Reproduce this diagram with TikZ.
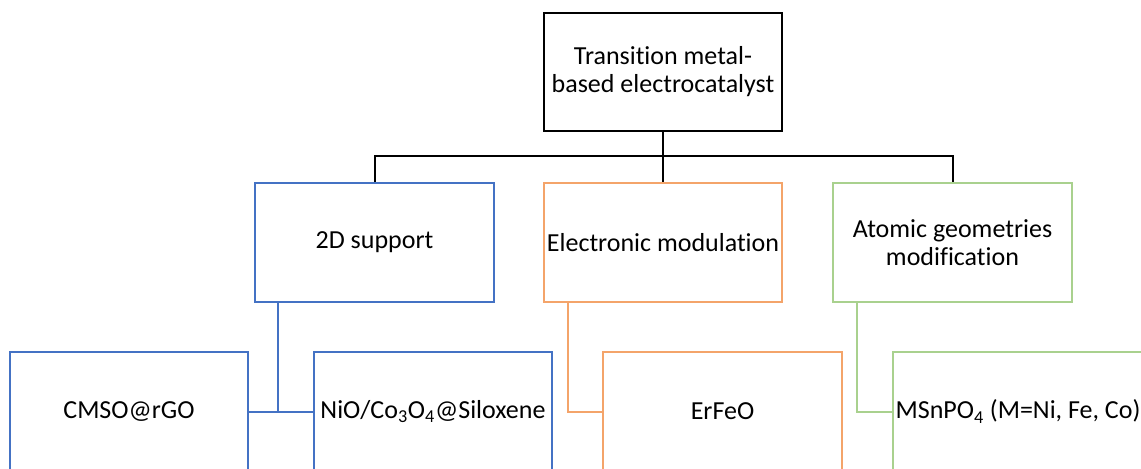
\documentclass[tikz,border=0pt]{standalone}
\usepackage{fontspec}
\setmainfont{Carlito}[Ligatures=NoCommon]
\usepackage{tikz}
\usetikzlibrary{positioning, calc}
\usepackage{xcolor}
\definecolor{TreeBlue}{HTML}{4472C4}
\definecolor{TreeOrange}{HTML}{F4A46A}
\definecolor{TreeGreen}{HTML}{A9D18E}

\begin{document}
\begin{tikzpicture}[
  x=0.75pt, y=-0.75pt,
  catbox/.style={draw, line width=1.5pt, fill=white, align=center, inner sep=2pt,
    minimum width=179pt, minimum height=89pt, font=\fontsize{19.5}{21}\selectfont},
  link/.style={line width=1.5pt},
]
  % Frame
  \useasboundingbox (0,0) rectangle (1141,468);
  \clip (0,0) rectangle (1141,468);

  % Y positions
  \def\ya{72}     % root
  \def\yb{242.5}  % strategies
  \def\yc{411.5}  % examples
  \def\ybus{156}  % branch line

  % Root
  \node[catbox, draw=black] (root) at (663, \ya) {Transition metal-\\based electrocatalyst};

  % Strategies
  \node[catbox, draw=TreeBlue]   (support) at (374.5, \yb) {2D support};
  \node[catbox, draw=TreeOrange] (elec)    at (663, \yb)   {Electronic modulation};
  \node[catbox, draw=TreeGreen]  (geom)    at (952.5, \yb) {Atomic geometries\\modification};

  % Examples
  \node[catbox, draw=TreeBlue]   (cmso)  at (129, \yc)   {CMSO@rGO};
  \node[catbox, draw=TreeBlue]   (nico)  at (433, \yc)   {NiO/Co\textsubscript{3}O\textsubscript{4}@Siloxene};
  \node[catbox, draw=TreeOrange] (erfeo) at (722.5, \yc) {ErFeO};
  \node[catbox, draw=TreeGreen, anchor=west] (msnpo) at (892, \yc) {MSnPO\textsubscript{4} (M=Ni, Fe, Co)};

  % Root branches
  \coordinate (bus) at (663, \ybus);
  \draw[link] (root.south) -- (bus);
  \draw[link] (support.north) |- (bus) -| (geom.north);
  \draw[link] (bus) -- (elec.north);

  % Example branches
  \coordinate (supjoin) at (278, \yc);
  \coordinate (elejoin) at (568, \yc);
  \coordinate (geojoin) at (857, \yc);
  \draw[link, TreeBlue] (supjoin |- support.south) -- (supjoin);
  \draw[link, TreeBlue] (cmso.east) -- (nico.west);
  \draw[link, TreeOrange] (elejoin |- elec.south) -- (elejoin) -- (erfeo.west);
  \draw[link, TreeGreen] (geojoin |- geom.south) -- (geojoin) -- (msnpo.west);
\end{tikzpicture}
\end{document}
